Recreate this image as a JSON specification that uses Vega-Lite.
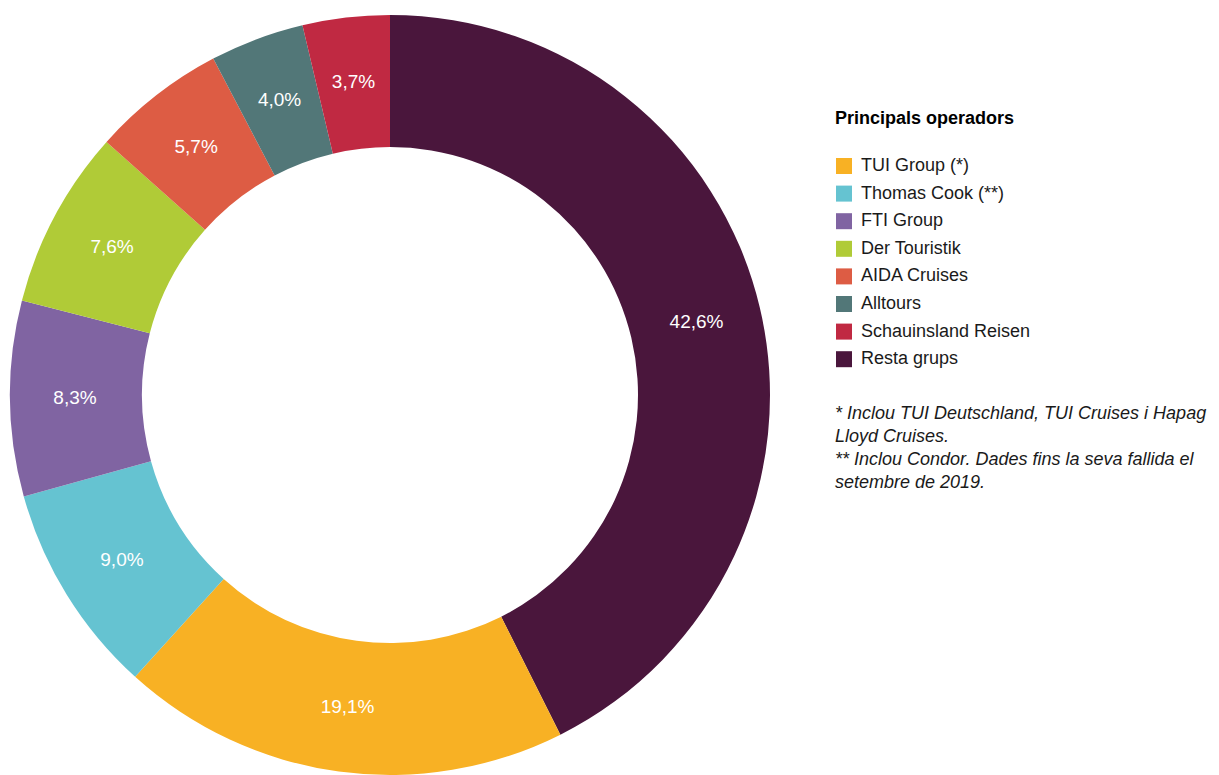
{
  "$schema": "https://vega.github.io/schema/vega-lite/v6.json",
  "width": 780,
  "height": 790,
  "autosize": "none",
  "padding": {"left": 0, "top": 0, "right": 439, "bottom": 0},
  "background": "white",
  "title": {
    "text": ["* Inclou TUI Deutschland, TUI Cruises i Hapag", "Lloyd Cruises.", "** Inclou Condor. Dades fins la seva fallida el", "setembre de 2019."],
    "orient": "top",
    "anchor": "start",
    "frame": "group",
    "baseline": "top",
    "dx": 835,
    "dy": 496,
    "font": "Liberation Sans",
    "fontSize": 18,
    "fontStyle": "italic",
    "fontWeight": "normal",
    "lineHeight": 23,
    "color": "#1a1a1a"
  },
  "data": {
    "values": [
      {"operador": "Resta grups", "share": 0.426, "ord": 1},
      {"operador": "TUI Group (*)", "share": 0.191, "ord": 2},
      {"operador": "Thomas Cook (**)", "share": 0.090, "ord": 3},
      {"operador": "FTI Group", "share": 0.083, "ord": 4},
      {"operador": "Der Touristik", "share": 0.076, "ord": 5},
      {"operador": "AIDA Cruises", "share": 0.057, "ord": 6},
      {"operador": "Alltours", "share": 0.040, "ord": 7},
      {"operador": "Schauinsland Reisen", "share": 0.037, "ord": 8}
    ]
  },
  "encoding": {
    "theta": {"field": "share", "type": "quantitative", "stack": true},
    "order": {"field": "ord", "type": "quantitative"}
  },
  "layer": [
    {
      "mark": {"type": "arc", "outerRadius": 380, "innerRadius": 248},
      "encoding": {
        "color": {
          "field": "operador",
          "type": "nominal",
          "scale": {
            "domain": ["TUI Group (*)", "Thomas Cook (**)", "FTI Group", "Der Touristik", "AIDA Cruises", "Alltours", "Schauinsland Reisen", "Resta grups"],
            "range": ["#F8B124", "#65C3D1", "#8064A2", "#B0CB37", "#DD5C44", "#527778", "#C02942", "#4A163C"]
          },
          "legend": {
            "title": "Principals operadors",
            "orient": "none",
            "legendX": 835,
            "legendY": 110,
            "symbolType": "square",
            "symbolSize": 256,
            "symbolStrokeWidth": 0,
            "labelFont": "Liberation Sans",
            "labelFontSize": 18,
            "labelColor": "#1a1a1a",
            "labelOffset": 8,
            "titleFont": "Liberation Sans",
            "titleFontSize": 18,
            "titleFontWeight": "bold",
            "titleColor": "#000000",
            "titlePadding": 29,
            "rowPadding": 9.6,
            "labelLimit": 350
          }
        }
      }
    },
    {
      "mark": {"type": "text", "radius": 315, "font": "Liberation Sans", "fontSize": 19, "color": "white"},
      "encoding": {
        "text": {"field": "share", "type": "quantitative", "format": ".1%"}
      }
    }
  ],
  "config": {
    "view": {"stroke": null},
    "locale": {
      "number": {"decimal": ",", "thousands": ".", "grouping": [3], "currency": ["", " €"]}
    }
  }
}
